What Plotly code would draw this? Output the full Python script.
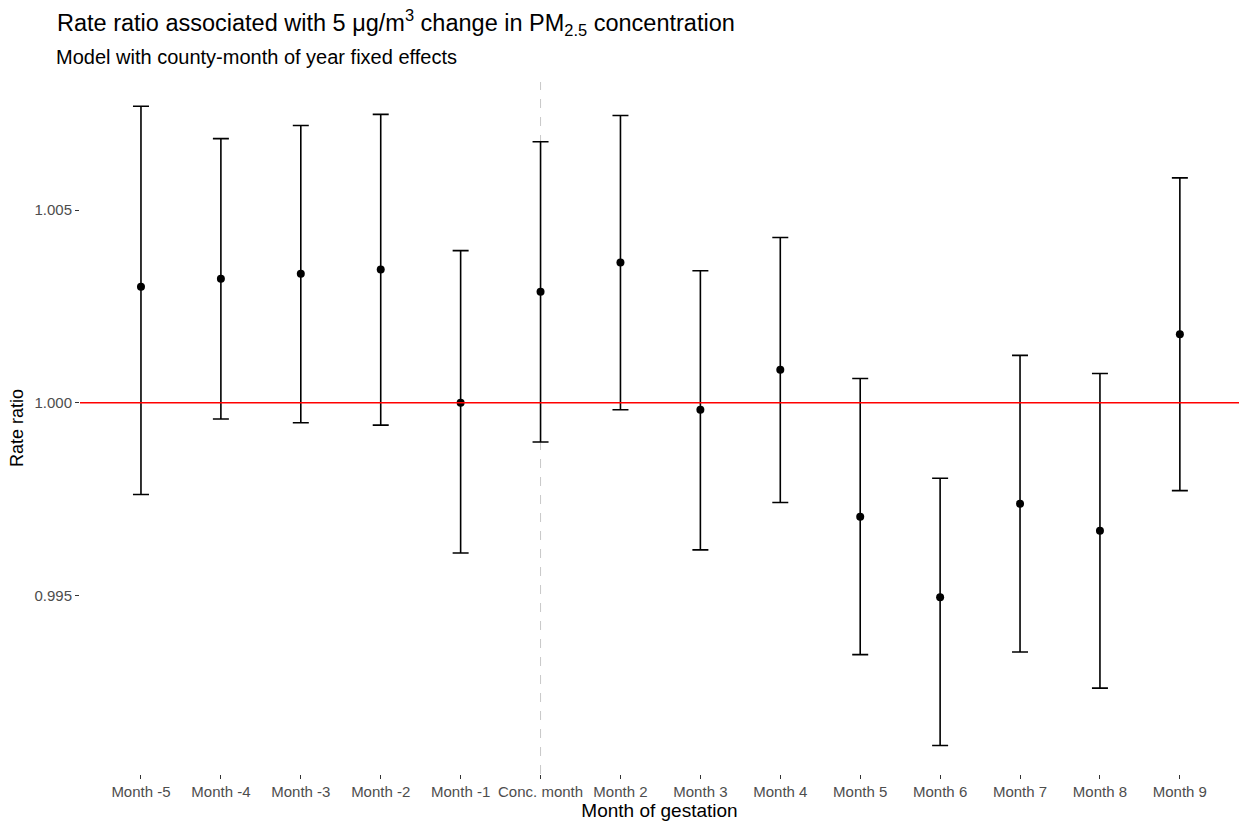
import plotly.graph_objects as go

categories = ["Month -5", "Month -4", "Month -3", "Month -2", "Month -1", "Conc. month",
              "Month 2", "Month 3", "Month 4", "Month 5", "Month 6", "Month 7", "Month 8", "Month 9"]
estimate = [1.00301, 1.00322, 1.00335, 1.00346, 1.00000, 1.00288,
            1.00364, 0.99982, 1.00086, 0.99704, 0.99495, 0.99738, 0.99668, 1.00178]
upper = [1.00770, 1.00686, 1.00720, 1.00749, 1.00395, 1.00678,
         1.00746, 1.00343, 1.00429, 1.00063, 0.99804, 1.00123, 1.00076, 1.00584]
lower = [0.99762, 0.99958, 0.99948, 0.99942, 0.99610, 0.99898,
         0.99982, 0.99618, 0.99741, 0.99346, 0.99110, 0.99353, 0.99259, 0.99772]
y_ticks = [0.995, 1.000, 1.005]
y_tick_text = ["0.995", "1.000", "1.005"]

xs = list(range(len(categories)))

fig = go.Figure()
fig.add_trace(go.Scatter(
    x=xs, y=estimate, mode="markers",
    marker=dict(color="black", size=8),
    error_y=dict(type="data", symmetric=False,
                 array=[u - e for u, e in zip(upper, estimate)],
                 arrayminus=[e - l for e, l in zip(estimate, lower)],
                 color="black", thickness=1.6, width=8),
    showlegend=False, hoverinfo="skip"))

fig.add_hline(y=1.0, line=dict(color="#ff0000", width=1.5), layer="above")
fig.add_shape(type="line", xref="x", yref="paper", x0=5, x1=5, y0=0, y1=1,
              line=dict(color="#c8c8c8", width=1, dash="dash"), layer="below")

font_family = "Liberation Sans, Arial, sans-serif"
fig.update_layout(
    width=1239, height=823,
    margin=dict(l=80, r=0, t=82, b=49),
    plot_bgcolor="white", paper_bgcolor="white",
    font=dict(family=font_family, color="black"),
    title=dict(text="Rate ratio associated with 5 μg/m<sup>3</sup> change in PM<sub>2.5</sub> concentration",
               x=57/1239, xanchor="left", y=1-23/823, yanchor="middle",
               font=dict(size=23.5, family=font_family, color="black")),
    xaxis=dict(tickmode="array", tickvals=xs, ticktext=categories,
               range=[-0.763, 13.74], showgrid=False, zeroline=False,
               ticks="outside", ticklen=4, tickcolor="#333333", tickwidth=1,
               tickfont=dict(size=15, color="#4d4d4d"),
               title=dict(text="Month of gestation", font=dict(size=19), standoff=2),
               showline=False),
    yaxis=dict(tickmode="array", tickvals=y_ticks, ticktext=y_tick_text,
               range=[0.99036, 1.00833], showgrid=False, zeroline=False,
               ticks="outside", ticklen=4, tickcolor="#333333", tickwidth=1,
               tickfont=dict(size=15, color="#4d4d4d"),
               title=dict(text="Rate ratio", font=dict(size=18), standoff=6),
               showline=False),
)
fig.add_annotation(text="Model with county-month of year fixed effects",
                   xref="paper", yref="paper", x=-(80-54)/1159, y=1+(82-57)/692,
                   xanchor="left", yanchor="middle", showarrow=False,
                   font=dict(size=20, family=font_family, color="black"))

fig.write_html("out.html")
